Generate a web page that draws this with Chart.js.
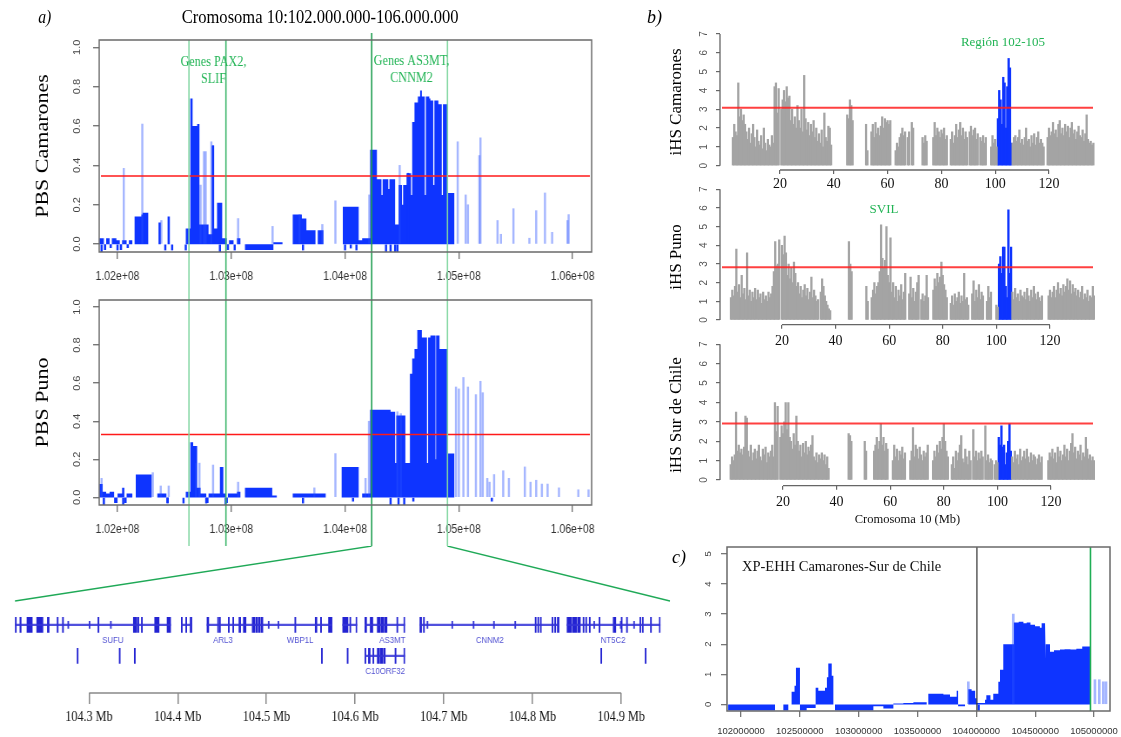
<!DOCTYPE html>
<html lang="es">
<head>
<meta charset="utf-8">
<title>PBS, iHS y XP-EHH - cromosoma 10</title>
<script src="https://cdn.jsdelivr.net/npm/chart.js@4.4.1/dist/chart.umd.min.js"></script>
<style>
  html, body { margin: 0; padding: 0; background: #fff; }
  body { position: relative; width: 1121px; height: 737px; overflow: hidden; }
  canvas { position: absolute; }
  #panelA { position: absolute; left: 0; top: 0; width: 800px; height: 737px; transform: scaleX(0.87); transform-origin: 0 0; }
  .txt { position: absolute; white-space: nowrap; line-height: 1; font-family: 'Liberation Serif', 'Times New Roman', serif; color: #000; }
</style>
</head>
<body>
<div id="panelA">
  <div class="txt" style="left:44px; top:8px; font-size:18px; font-style:italic;">a)</div>
  <div class="txt" style="left:0; width:736px; top:7px; font-size:19px; text-align:center;">Cromosoma 10:102.000.000-106.000.000</div>
  <canvas id="pbsCam" width="720" height="262" style="left:0; top:28px;"></canvas>
  <canvas id="pbsPuno" width="720" height="256" style="left:0; top:290px;"></canvas>
  <canvas id="genes" width="775" height="191" style="left:0; top:546px;"></canvas>
</div>
<div class="txt" style="left:647px; top:8px; font-size:18px; font-style:italic;">b)</div>
<canvas id="ihsCam" width="481" height="192" style="left:640px; top:0;"></canvas>
<canvas id="ihsPuno" width="481" height="170" style="left:640px; top:180px;"></canvas>
<canvas id="ihsSur" width="481" height="192" style="left:640px; top:338px;"></canvas>
<div class="txt" style="left:672px; top:548px; font-size:18px; font-style:italic;">c)</div>
<canvas id="xpehh" width="441" height="202" style="left:680px; top:535px;"></canvas>

<script>
// ---- PBS (panel a), positions in Mb ----
const pbsTicks = [102, 103, 104, 105, 106];
const pbsTickLabels = ['1.02e+08', '1.03e+08', '1.04e+08', '1.05e+08', '1.06e+08'];
const pbsYTicks = [0, 0.2, 0.4, 0.6, 0.8, 1.0];
const pbsYLabels = ['0.0', '0.2', '0.4', '0.6', '0.8', '1.0'];

// Camarones: step outline of the dense blocks (value holds until next x)
const camBlockX = [101.84, 101.88, 101.90, 101.93, 101.95, 101.99, 102.02, 102.04, 102.08, 102.10, 102.13, 102.15, 102.21, 102.22, 102.27,
  102.36, 102.38, 102.44, 102.46, 102.60, 102.64, 102.66, 102.70, 102.72, 102.80, 102.83, 102.845, 102.875, 102.92, 102.96, 102.98,
  103.02, 103.05, 103.08, 103.12, 103.37, 103.45, 103.54, 103.62, 103.66, 103.74, 103.76, 103.81, 103.98, 104.12, 104.15, 104.22,
  104.28, 104.32, 104.33, 104.38, 104.39, 104.44, 104.47, 104.50, 104.51, 104.54, 104.58, 104.59, 104.61, 104.64, 104.66, 104.675,
  104.70, 104.71, 104.74, 104.75, 104.775, 104.785, 104.82, 104.85, 104.86, 104.905, 104.96, 106.17];
const camBlockY = [0.03, -0.03, 0.03, -0.02, 0.03, 0.02, -0.03, 0.02, -0.02, 0.02, 0, 0.14, 0.15, 0.16, 0,
  0.11, 0, 0.14, 0, 0.08, 0.74, 0.60, 0.61, 0.10, 0.05, 0.50, 0.08, 0.21, 0.03, -0.03, 0.02,
  0, 0.03, 0, -0.03, 0.01, 0, 0.15, 0.13, 0.07, 0, 0.07, 0, 0.19, 0.02, 0.03, 0.48,
  0.33, 0.25, 0.33, 0.28, 0.33, 0.10, 0.30, 0.20, 0.30, 0.36, 0.25, 0.62, 0.72, 0.75, 0.78, 0.75,
  0.25, 0.75, 0.74, 0.73, 0.30, 0.73, 0.71, 0.25, 0.71, 0.26, 0, 0];
const camLineX = [102.84, 104.555, 101.86, 102.0, 102.42, 102.48, 102.6, 102.9, 103.03, 103.63, 104.0, 104.05, 104.1, 104.36, 104.40, 104.44, 104.46];
const camLineY = [0.50, 0.36, -0.04, -0.03, -0.03, -0.03, -0.03, -0.04, -0.03, -0.03, -0.03, -0.02, -0.03, -0.04, -0.04, -0.04, -0.04];
const camFaintX = [102.055, 102.218, 102.385, 102.73, 102.76, 102.775, 102.825, 103.06, 103.363, 103.6, 103.8, 103.915, 104.213, 104.48,
  104.99, 105.06, 105.08, 105.18, 105.19, 105.34, 105.37, 105.48, 105.62, 105.68, 105.757, 105.82, 105.955, 105.965];
const camFaintY = [0.385, 0.61, 0.12, 0.30, 0.47, 0.47, 0.52, 0.13, 0.09, 0.15, 0.10, 0.22, 0.25, 0.40,
  0.52, 0.25, 0.20, 0.45, 0.54, 0.12, 0.05, 0.18, 0.03, 0.17, 0.26, 0.06, 0.12, 0.15];

// Puno
const punoBlockX = [101.84, 101.87, 101.90, 101.93, 101.97, 102.00, 102.04, 102.06, 102.08, 102.13, 102.16, 102.30, 102.35, 102.43, 102.45,
  102.60, 102.64, 102.665, 102.70, 102.73, 102.78, 102.80, 102.90, 102.93, 102.95, 102.97, 103.05, 103.08, 103.12, 103.36, 103.40,
  103.54, 103.83, 103.97, 104.12, 104.15, 104.22, 104.40, 104.44, 104.45, 104.53, 104.57, 104.59, 104.61, 104.635, 104.675, 104.72,
  104.73, 104.75, 104.795, 104.80, 104.83, 104.90, 104.96, 106.17];
const punoBlockY = [0.07, 0.03, 0.02, 0.03, -0.03, 0.02, 0.05, -0.03, 0.02, 0, 0.12, 0, 0.02, -0.03, 0,
  0.03, 0.29, 0.27, 0.05, 0.02, -0.03, 0.02, 0.16, 0.02, -0.03, 0.02, 0.03, 0, 0.05, 0.01, 0,
  0.02, 0, 0.16, 0, 0.02, 0.46, 0.45, 0.18, 0.43, 0.18, 0.65, 0.73, 0.78, 0.88, 0.84, 0.18,
  0.84, 0.85, 0.20, 0.85, 0.78, 0.23, 0, 0];
const punoLineX = [101.88, 102.05, 102.44, 102.58, 102.78, 102.95, 103.63, 104.07, 104.40, 104.47, 104.52, 104.60, 105.29];
const punoLineY = [-0.04, -0.04, -0.03, -0.03, -0.03, -0.04, -0.03, -0.02, -0.04, -0.04, -0.04, -0.02, -0.02];
const punoFaintX = [101.86, 102.31, 102.38, 102.45, 102.69, 102.72, 102.84, 103.06, 103.73, 103.915, 104.18, 104.21, 104.46, 104.49,
  104.975, 105.0, 105.04, 105.08, 105.15, 105.19, 105.21, 105.25, 105.27, 105.31, 105.39, 105.44, 105.58, 105.63, 105.68, 105.73,
  105.78, 105.88, 106.05, 106.14];
const punoFaintY = [0.10, 0.13, 0.06, 0.06, 0.18, 0.18, 0.17, 0.08, 0.05, 0.23, 0.10, 0.40, 0.45, 0.44,
  0.58, 0.57, 0.63, 0.58, 0.54, 0.61, 0.55, 0.10, 0.08, 0.12, 0.14, 0.10, 0.16, 0.08, 0.09, 0.07,
  0.07, 0.05, 0.04, 0.04];

const camRed = 0.346, punoRed = 0.33;
const markAt = [102.628, 102.953, 104.234, 104.9];
const markColor = ['#80d6a0', '#3fb76c', '#1f9e50', '#80d6a0'];
const zoomFrom = 104.234, zoomTo = 104.9;

// ---- gene track (Mb) ----
const geneTicks = [104.3, 104.4, 104.5, 104.6, 104.7, 104.8, 104.9];
const geneTickLabels = ['104.3 Mb', '104.4 Mb', '104.5 Mb', '104.6 Mb', '104.7 Mb', '104.8 Mb', '104.9 Mb'];
const row1Introns = [[104.211, 104.392], [104.404, 104.416], [104.433, 104.574], [104.586, 104.602], [104.611, 104.656], [104.673, 104.830], [104.839, 104.944]];
const row1Exons = [[104.211, 104.218], [104.222, 104.2235], [104.230, 104.236], [104.241, 104.248], [104.253, 104.255], [104.264, 104.2652],
  [104.270, 104.2712], [104.310, 104.3112], [104.350, 104.354], [104.355, 104.3562], [104.359, 104.3602], [104.374, 104.379], [104.388, 104.392],
  [104.404, 104.4052], [104.409, 104.4102], [104.414, 104.416], [104.433, 104.435], [104.445, 104.4462], [104.447, 104.4482], [104.457, 104.4582],
  [104.462, 104.4632], [104.469, 104.471], [104.474, 104.477], [104.484, 104.487], [104.488, 104.490], [104.491, 104.493], [104.494, 104.496],
  [104.532, 104.5332], [104.555, 104.557], [104.561, 104.5622], [104.570, 104.574], [104.586, 104.592], [104.594, 104.5952], [104.601, 104.602],
  [104.611, 104.613], [104.617, 104.620], [104.625, 104.628], [104.629, 104.632], [104.633, 104.636], [104.647, 104.6482], [104.655, 104.656],
  [104.673, 104.675], [104.677, 104.6782], [104.803, 104.8042], [104.806, 104.8072], [104.809, 104.810], [104.822, 104.8232], [104.825, 104.8262],
  [104.828, 104.830], [104.839, 104.844], [104.845, 104.850], [104.851, 104.854], [104.857, 104.8582], [104.860, 104.8612], [104.864, 104.8652],
  [104.875, 104.8762], [104.891, 104.894], [104.900, 104.9012], [104.906, 104.9072], [104.921, 104.9222], [104.924, 104.925], [104.933, 104.9342],
  [104.943, 104.944]];
const row1Marks = [104.276, 104.300, 104.324, 104.502, 104.513, 104.681, 104.709, 104.733, 104.756, 104.780, 104.869, 104.899, 104.914];
const row2Introns = [[104.611, 104.656]];
const row2Exons = [[104.211, 104.213], [104.2865, 104.2877], [104.334, 104.3352], [104.351, 104.3522], [104.562, 104.5632], [104.591, 104.5922],
  [104.611, 104.6122], [104.615, 104.617], [104.620, 104.6212], [104.625, 104.627], [104.628, 104.631], [104.632, 104.634], [104.645, 104.6462],
  [104.655, 104.656], [104.877, 104.8782], [104.927, 104.9282]];
const geneNames = ['SUFU', 'ARL3', 'WBP1L', 'AS3MT', 'CNNM2', 'NT5C2', 'C10ORF32'];
const geneNameAt = [104.327, 104.451, 104.538, 104.642, 104.752, 104.891, 104.634];
const geneNameRow = [1.5, 1.5, 1.5, 1.5, 1.5, 1.5, 2.5];

// ---- iHS (panel b), one value every 0.5 Mb ----
const ihsStep = 0.5;
const ihsTicks = [20, 40, 60, 80, 100, 120];
const ihsYTicks = [0, 1, 2, 3, 4, 5, 6, 7];
const camStart = 2.5;
const ihsCamarones = [
  1.5,2.2,1.8,1.6,4.4,2.6,3.0,2.4,2.7,2.2, 1.8,1.4,2.0,1.2,1.7,2.2,1.5,1.0,1.9,1.3,
  1.1,1.6,0.9,2.0,1.2,0.8,1.4,1.1,1.0,1.6, 1.2,4.2,4.4,2.8,4.1,null,3.0,3.5,4.0,3.4,
  4.2,3.6,3.7,2.4,3.0,2.2,2.6,2.0,3.2,2.4, 2.0,3.0,1.8,4.8,2.5,1.9,2.3,1.6,2.2,1.8,
  2.4,1.5,2.0,1.3,1.7,1.2,1.9,1.0,2.8,1.5, 1.3,2.1,2.0,1.1,null,null,null,null,null,null,
  null,null,null,null,null,2.7,2.5,3.5,3.2,2.4, null,null,null,null,null,null,null,null,null,2.2,
  0.8,null,null,1.8,2.2,1.5,2.3,1.7,2.0,1.6, 2.1,2.6,2.0,2.5,2.3,2.4,2.2,2.4,null,null,
  null,0.8,1.2,1.0,1.5,1.7,2.0,1.6,1.8,null, 1.5,1.8,null,2.3,2.0,null,null,null,null,null,
  null,1.5,1.2,1.6,1.3,null,null,null,null,1.5, 2.3,1.6,2.0,1.8,1.5,1.9,1.7,2.0,1.4,1.6,
  null,null,1.4,1.8,1.2,1.6,2.2,1.5,1.9,2.3, 1.6,2.0,1.4,1.8,1.5,null,1.8,2.1,1.6,1.9,
  2.0,1.4,1.7,null,1.5,1.3,1.6,1.2,1.5,null, null,null,1.0,1.6,1.2,1.4,1.0,2.5,4.0,3.5,
  2.2,4.7,4.4,2.0,4.2,5.7,5.2,1.2,1.2,1.5, 1.6,1.3,1.5,1.9,1.2,1.4,1.1,1.5,2.0,1.3,
  1.4,1.0,1.6,1.2,1.7,1.1,1.5,1.8,1.2,1.4, 1.2,1.0,null,null,1.5,2.0,1.6,1.8,2.3,1.7,
  1.9,1.5,2.2,2.4,1.7,2.0,1.6,2.2,1.8,2.1, 1.5,2.0,2.3,1.7,1.9,1.4,1.8,2.1,1.6,1.5,
  1.9,1.3,1.7,2.7,1.4,1.2,1.3,1.1,1.2];
const punoStart = 1.0;
const ihsPuno = [
  1.2,1.6,1.3,1.8,3.8,1.5,1.9,1.2,2.4,1.4, 1.7,1.1,3.6,1.3,1.6,1.0,1.5,1.2,1.7,1.1,
  1.6,1.2,1.4,0.9,1.5,1.1,1.3,1.0,1.5,1.2, 1.4,1.8,2.6,4.2,2.9,3.0,4.3,null,4.0,3.5,
  4.5,3.6,2.4,3.0,2.2,2.8,2.0,3.1,2.5,1.8, 2.0,1.4,1.8,1.2,1.6,1.9,1.3,1.7,1.1,1.5,
  2.3,1.2,1.6,1.3,1.0,1.1,null,1.5,2.2,1.8, 1.3,1.0,0.8,0.6,0.5,null,null,null,null,null,
  null,null,null,null,null,null,null,null,4.2,3.0, 2.6,null,null,null,null,null,null,null,null,null,
  null,1.8,1.0,null,null,1.2,1.6,2.0,1.4,1.8, 2.0,2.6,5.1,3.3,2.8,3.2,5.0,2.4,2.0,4.4,
  1.5,2.0,1.2,1.8,1.0,1.6,1.3,1.9,1.1,1.5, 2.5,null,null,1.4,2.3,1.2,1.7,1.0,1.5,2.0,
  2.4,null,1.1,1.4,1.0,1.3,2.4,1.2,null,null, null,1.6,2.2,1.8,2.5,2.0,2.3,3.1,2.4,1.9,
  1.6,1.2,null,null,0.9,1.3,0.8,1.4,1.0,1.2, 1.5,0.9,1.3,1.0,2.5,1.1,1.2,0.8,null,null,
  1.4,2.1,1.0,1.6,1.2,1.9,1.1,1.5,1.3,null, null,1.0,1.8,1.2,1.5,null,null,null,0.8,0.7,
  3.0,3.4,2.5,3.9,3.9,1.8,1.2,5.9,2.5,3.9, 1.5,1.1,1.7,1.2,1.4,1.0,1.6,1.3,1.2,1.5,
  1.1,1.7,1.3,1.0,1.6,1.2,1.8,1.4,1.1,1.5, 1.2,1.0,1.3,null,null,null,null,1.3,1.6,1.2,
  1.5,1.8,1.2,1.6,2.0,1.4,1.7,1.3,1.9,1.5, 1.8,2.2,1.6,2.1,1.4,1.9,1.5,1.7,1.3,1.6,
  1.2,1.5,1.8,1.1,1.4,1.2,1.6,1.0,1.3,1.2, 1.8,1.3];
const surStart = 0.5;
const ihsSur = [
  0.8,1.2,1.0,1.3,3.5,1.5,1.8,1.4,1.6,1.3, 1.7,3.3,3.2,1.5,1.2,1.8,1.0,1.4,1.6,1.1,
  1.5,1.8,1.2,1.0,1.6,1.3,1.7,0.9,1.4,1.2, 1.5,1.8,1.2,4.0,2.5,3.8,null,2.2,2.8,2.4,
  3.0,4.0,2.6,4.0,2.2,2.0,1.6,2.4,1.8,3.3, 2.0,1.5,1.8,1.2,1.9,1.4,2.0,1.3,1.7,1.5,
  1.8,2.3,1.2,1.0,1.4,0.9,1.3,1.1,1.4,1.0, 1.3,0.8,1.2,0.6,null,null,null,null,null,null,
  null,null,null,null,null,null,null,null,2.4,2.3, 2.0,null,null,null,null,null,null,null,null,null,
  2.0,1.5,null,null,null,null,null,1.5,1.8,2.2, 1.6,2.0,2.9,1.8,2.2,1.5,1.9,1.6,null,null,
  null,1.0,1.8,1.2,1.6,1.0,1.5,1.3,1.7,1.1, 1.4,null,null,null,1.0,1.5,2.7,1.2,1.8,1.6,
  1.1,1.7,1.3,1.0,1.5,1.2,1.4,1.8,null,null, null,1.0,1.5,1.2,1.8,1.4,2.0,1.6,2.2,2.9,
  2.0,1.5,1.2,null,null,0.8,1.2,0.6,1.5,1.0, 1.4,1.8,2.3,1.1,0.9,1.6,1.2,0.8,1.5,1.0,
  null,2.6,1.2,1.5,1.0,1.4,1.1,1.5,1.2,null, 2.8,1.0,1.3,0.9,1.1,1.0,null,0.8,1.0,0.9,
  2.2,1.8,2.8,1.7,1.8,0.8,1.4,2.0,2.9,1.5, 1.2,0.9,1.5,1.1,1.3,0.8,1.6,1.0,1.2,1.5,
  1.1,1.6,1.2,0.9,1.4,1.0,1.3,1.2,0.8,1.1, 1.3,0.9,1.2,null,null,null,null,1.0,1.4,1.2,
  1.6,1.1,1.4,0.9,1.7,1.2,1.5,1.0,1.3,1.8, 1.2,1.6,1.0,1.5,1.9,2.4,1.4,1.7,1.1,1.5,
  1.3,1.8,1.0,1.4,1.2,2.2,1.6,1.1,1.3,1.0, 1.2,1.0,0.9];
const camBlue = [100.8, 106.2], punoBlue = [100.6, 105.7], surBlue = [100.3, 105.1];
const ihsRedCam = 3.08, ihsRedPuno = 2.82, ihsRedSur = 2.92;

// ---- XP-EHH (panel c), positions in Mb ----
const xpTicks = [102, 102.5, 103, 103.5, 104, 104.5, 105];
const xpTickLabels = ['102000000', '102500000', '103000000', '103500000', '104000000', '104500000', '105000000'];
const xpYTicks = [0, 1, 2, 3, 4, 5];
const xpBlockX = [101.89, 102.289, 102.36, 102.402, 102.43, 102.455, 102.467, 102.501, 102.558, 102.629, 102.637, 102.657, 102.714, 102.73,
  102.742, 102.771, 102.785, 102.799, 103.125, 103.21, 103.295, 103.38, 103.465, 103.578, 103.592, 103.72, 103.776, 103.833, 103.845,
  103.904, 103.932, 103.96, 103.99, 104.003, 104.074, 104.085, 104.12, 104.144, 104.187, 104.201, 104.229, 104.319, 104.36, 104.40,
  104.428, 104.46, 104.499, 104.54, 104.555, 104.584, 104.592, 104.626, 104.66, 104.711, 104.75, 104.80, 104.85, 104.90, 104.966, 105.13];
const xpBlockY = [-0.2, 0, -0.2, 0, 0.42, 0.62, 1.22, -0.2, -0.12, 0, 0.55, 0.45, 0.55, 0.90,
  1.36, 0.95, 0, -0.2, -0.06, -0.14, 0.03, 0.05, 0.07, 0, 0.35, 0.33, 0.25, 0.45, -0.06,
  0, 0.50, 0.45, 0.20, 0.05, 0.15, 0.30, 0.15, 0.35, 0.75, 1.15, 2.0, 2.72, 2.75, 2.70,
  2.72, 2.65, 2.60, 2.55, 2.70, 1.50, 2.0, 1.75, 1.80, 1.82, 1.83, 1.82, 1.85, 1.92, 0, 0];
const xpFaintX = [104.314, 105.008, 105.045, 105.079, 105.102, 103.932];
const xpFaintY = [3.0, 0.82, 0.82, 0.75, 0.75, 0.75];
const xpLineX = [104.02];
const xpLineY = [-0.2];
const xpMarks = [104.005, 104.97];

// ---------------------------------------------------------------
const BLUE = 'rgb(14,52,255)';
const FAINT = 'rgba(40,80,255,0.42)';
const GRAY = '#a4a4a4';
const SERIF = "'Liberation Serif', 'Times New Roman', serif";
const SANS = "'Liberation Sans', Arial, sans-serif";

const pts = (xs, ys) => xs.map((x, i) => ({ x, y: ys[i] }));
// each value holds from its x to the next x: corners of the outline
const stepPts = (xs, ys) => xs.flatMap((x, i) =>
  i < xs.length - 1 ? [{ x, y: ys[i] }, { x: xs[i + 1], y: ys[i] }] : [{ x, y: ys[i] }]);
const ihsPts = (start, vals, range, inside) => vals.map((v, i) => {
  const x = start + i * ihsStep;
  const isIn = x >= range[0] && x <= range[1];
  return { x, y: isIn === inside ? v : null };
});
const fixTicks = vals => s => { s.ticks = vals.map(v => ({ value: v })); };

// R-looking extras: abline, frame, axis lines, rotated tick labels, notes
function rPlot(c) {
  return {
    id: 'rPlot',
    afterDatasetsDraw(chart) {
      const { ctx, chartArea: a } = chart;
      const xs = chart.scales.x, ys = chart.scales.y;
      ctx.save();
      if (c.red != null) {
        const py = ys.getPixelForValue(c.red);
        ctx.strokeStyle = c.redColor || '#ff1a1a';
        ctx.lineWidth = c.redWidth || 1.6;
        ctx.beginPath(); ctx.moveTo(a.left + 2, py); ctx.lineTo(a.right - 2, py); ctx.stroke();
      }
      (c.vlines || []).forEach(v => {
        const px = xs.getPixelForValue(v.at);
        ctx.strokeStyle = v.color; ctx.lineWidth = v.width || 1.4;
        ctx.beginPath();
        ctx.moveTo(px, v.from === 'canvas' ? 0 : a.top - (v.above || 0));
        ctx.lineTo(px, v.to === 'canvas' ? chart.height : a.bottom);
        ctx.stroke();
      });
      if (c.frame) {
        ctx.strokeStyle = '#6a6a6a'; ctx.lineWidth = 1.5;
        ctx.strokeRect(a.left, a.top, a.right - a.left, a.bottom - a.top);
      }
      ctx.strokeStyle = c.axisColor || '#666'; ctx.lineWidth = 1.3;
      if (c.xAxisLine) {
        ctx.beginPath();
        ctx.moveTo(xs.getPixelForValue(c.xAxisLine[0]), a.bottom);
        ctx.lineTo(xs.getPixelForValue(c.xAxisLine[1]), a.bottom);
        ctx.stroke();
      }
      if (c.yAxisLine) {
        ctx.beginPath();
        ctx.moveTo(a.left, ys.getPixelForValue(c.yAxisLine[0]));
        ctx.lineTo(a.left, ys.getPixelForValue(c.yAxisLine[1]));
        ctx.stroke();
      }
      if (c.yLabels) {
        const L = c.yLabels;
        ctx.fillStyle = L.color; ctx.font = L.font;
        ctx.textAlign = 'center'; ctx.textBaseline = 'middle';
        L.values.forEach((v, i) => {
          ctx.save();
          ctx.translate(a.left - L.offset, ys.getPixelForValue(v));
          ctx.rotate(-Math.PI / 2);
          ctx.fillText(L.texts[i], 0, 0);
          ctx.restore();
        });
      }
      (c.notes || []).forEach(n => {
        ctx.fillStyle = n.color; ctx.font = n.font;
        ctx.textAlign = n.align || 'center'; ctx.textBaseline = 'middle';
        const px = xs.getPixelForValue(n.x), py = ys.getPixelForValue(n.y);
        n.lines.forEach((t, i) => ctx.fillText(t, px, py + i * (n.lh || 0)));
      });
      ctx.restore();
    }
  };
}

Chart.defaults.font.family = SANS;
const base = { responsive: false, animation: false, events: [], devicePixelRatio: 1,
  plugins: { legend: { display: false }, tooltip: { enabled: false } } };

function pbsConfig(o) {
  return {
    type: 'bar',
    data: { datasets: [
      { type: 'line', data: stepPts(o.bx, o.by), fill: 'origin', backgroundColor: BLUE, borderWidth: 0, pointRadius: 0, tension: 0, order: 3 },
      { data: pts(o.fx, o.fy), backgroundColor: FAINT, barThickness: 1.8, grouped: false, order: 2 },
      { data: pts(o.lx, o.ly), backgroundColor: BLUE, barThickness: 1.8, grouped: false, order: 1 }
    ] },
    options: Object.assign({}, base, {
      layout: { padding: { left: 0, right: 40, top: o.padTop, bottom: 0 } },
      scales: {
        x: { type: 'linear', min: 101.839, max: 106.167, offset: false,
          afterBuildTicks: fixTicks(pbsTicks),
          afterFit: s => { s.height = o.axisH; s.paddingLeft = 0; s.paddingRight = 0; },
          grid: { drawOnChartArea: false, tickLength: 7, color: '#777', lineWidth: 1.4, offset: false },
          border: { display: false },
          ticks: { autoSkip: false, maxRotation: 0, padding: 10, color: '#333', font: { family: SANS, size: 12 },
            callback: (v, i) => pbsTickLabels[i] } },
        y: { type: 'linear', min: -0.04, max: 1.037,
          afterBuildTicks: fixTicks(pbsYTicks),
          afterFit: s => { s.width = 114; s.paddingTop = 0; s.paddingBottom = 0; },
          grid: { drawOnChartArea: false, tickLength: 7, color: '#777', lineWidth: 1.4 },
          border: { display: false },
          ticks: { display: false },
          title: { display: true, text: o.title, color: '#000', font: { family: SERIF, size: 22 }, padding: { top: 36, bottom: 0 } } }
      }
    }),
    plugins: [rPlot({
      red: o.red, frame: true,
      vlines: markAt.map((m, i) => ({ at: m, color: markColor[i], width: 1.6, from: o.linesFrom, to: 'canvas', above: i === 2 ? 7 : 0 })),
      yLabels: { values: pbsYTicks, texts: pbsYLabels, offset: 25.5, font: `11px ${SANS}`, color: '#444' },
      notes: o.notes
    })]
  };
}

const pbsCam = new Chart(document.getElementById('pbsCam'), pbsConfig({
  bx: camBlockX, by: camBlockY, fx: camFaintX, fy: camFaintY, lx: camLineX, ly: camLineY,
  red: camRed, padTop: 12, axisH: 38, title: 'PBS Camarones', linesFrom: 'area',
  notes: [
    { x: 102.843, y: 0.924, lines: ['Genes PAX2,', 'SLIF'], lh: 17, font: `14px ${SERIF}`, color: '#22b455' },
    { x: 104.584, y: 0.930, lines: ['Genes AS3MT,', 'CNNM2'], lh: 17, font: `14px ${SERIF}`, color: '#22b455' }
  ]
}));
const pbsPuno = new Chart(document.getElementById('pbsPuno'), pbsConfig({
  bx: punoBlockX, by: punoBlockY, fx: punoFaintX, fy: punoFaintY, lx: punoLineX, ly: punoLineY,
  red: punoRed, padTop: 10, axisH: 41, title: 'PBS Puno', linesFrom: 'canvas', notes: []
}));

// gene track under panel a
const rowBars = (pairs, row) => pairs.map(p => ({ x: p, y: row }));
const markBars = (xs, row) => xs.map(x => ({ x: [x, x + 0.0012], y: row }));
const geneDecor = {
  id: 'geneDecor',
  afterDatasetsDraw(chart) {
    const { ctx, chartArea: a, scales: { x, y } } = chart;
    const px = pbsPuno.scales.x;
    ctx.save();
    ctx.strokeStyle = '#1fa957'; ctx.lineWidth = 1.3;
    ctx.beginPath();
    ctx.moveTo(px.getPixelForValue(zoomFrom), 0); ctx.lineTo(a.left, a.top);
    ctx.moveTo(px.getPixelForValue(zoomTo), 0); ctx.lineTo(a.right, a.top);
    ctx.stroke();
    ctx.fillStyle = '#5252d2'; ctx.font = `9px ${SANS}`;
    ctx.textAlign = 'center'; ctx.textBaseline = 'middle';
    geneNames.forEach((n, i) => ctx.fillText(n, x.getPixelForValue(geneNameAt[i]), y.getPixelForValue(geneNameRow[i])));
    ctx.restore();
  }
};
new Chart(document.getElementById('genes'), {
  type: 'bar',
  data: { datasets: [
    { data: rowBars(row1Introns, 1).concat(rowBars(row2Introns, 2)), backgroundColor: 'rgba(50,50,215,0.85)', barThickness: 1.6, grouped: false },
    { data: rowBars(row1Exons, 1).concat(rowBars(row2Exons, 2)), backgroundColor: '#2323d2', barThickness: 15, grouped: false },
    { data: markBars(row1Marks, 1), backgroundColor: '#3a3ad6', barThickness: 7, grouped: false }
  ] },
  options: Object.assign({}, base, {
    indexAxis: 'y',
    layout: { padding: { left: 17.2, right: 5, top: 55, bottom: 0 } },
    scales: {
      x: { type: 'linear', min: 104.2165, max: 104.955,
        afterBuildTicks: fixTicks(geneTicks),
        afterFit: s => { s.height = 44; s.paddingLeft = 0; s.paddingRight = 0; },
        grid: { drawOnChartArea: false, tickLength: 11, color: '#888', lineWidth: 1.5 },
        border: { display: false },
        ticks: { autoSkip: false, maxRotation: 0, padding: 5, color: '#111', font: { family: SERIF, size: 14 },
          callback: (v, i) => geneTickLabels[i] } },
      y: { type: 'linear', min: 0.23, max: 3.2, reverse: true, display: false, offset: false, grid: { offset: false } }
    }
  }),
  plugins: [rPlot({ xAxisLine: [104.3, 104.9], axisColor: '#888' }), geneDecor]
});

// panel b
function ihsConfig(o) {
  return {
    type: 'bar',
    data: { datasets: [
      { data: ihsPts(o.start, o.vals, o.blue, false), backgroundColor: GRAY, barThickness: 1.6, grouped: false },
      { data: ihsPts(o.start, o.vals, o.blue, true), backgroundColor: BLUE, barThickness: 1.6, grouped: false }
    ] },
    options: Object.assign({}, base, {
      layout: { padding: { left: 0, right: 26, top: o.padTop, bottom: 0 } },
      scales: {
        x: { type: 'linear', min: o.xmin, max: o.xmax, offset: false,
          afterBuildTicks: fixTicks(ihsTicks),
          afterFit: s => { s.height = o.axisH; s.paddingLeft = 0; s.paddingRight = 0; },
          grid: { drawOnChartArea: false, tickLength: 4, color: '#666', lineWidth: 1.2, offset: false },
          border: { display: false },
          ticks: { autoSkip: false, maxRotation: 0, padding: o.tickPad, color: '#111', font: { family: SERIF, size: 14 } },
          title: o.xTitle ? { display: true, text: o.xTitle, color: '#111', font: { family: SERIF, size: 12.5 }, padding: { top: 0, bottom: 2.5 } } : { display: false } },
        y: { type: 'linear', min: o.ymin, max: 7,
          afterBuildTicks: fixTicks(ihsYTicks),
          afterFit: s => { s.width = 80; s.paddingTop = 0; s.paddingBottom = 0; },
          grid: { drawOnChartArea: false, tickLength: 4, color: '#666', lineWidth: 1.2 },
          border: { display: false },
          ticks: { display: false },
          title: { display: true, text: o.title, color: '#000', font: { family: SERIF, size: 17 }, padding: { top: 26.8, bottom: 0 } } }
      }
    }),
    plugins: [rPlot({
      red: o.red, redColor: 'rgba(255,30,30,0.85)', redWidth: 2,
      xAxisLine: [20, 120], yAxisLine: [0, 7], axisColor: '#666',
      yLabels: { values: ihsYTicks, texts: ihsYTicks.map(String), offset: 16, font: `10px ${SANS}`, color: '#555' },
      notes: o.notes
    })]
  };
}
new Chart(document.getElementById('ihsCam'), ihsConfig({
  start: camStart, vals: ihsCamarones, blue: camBlue, red: ihsRedCam, title: 'iHS Camarones',
  xmin: -2.3, xmax: 137.1, ymin: -0.23, padTop: 34, axisH: 22, tickPad: 2,
  notes: [{ x: 102.9, y: 6.52, lines: ['Región 102-105'], font: `13px ${SERIF}`, color: '#22b455' }]
}));
new Chart(document.getElementById('ihsPuno'), ihsConfig({
  start: punoStart, vals: ihsPuno, blue: punoBlue, red: ihsRedPuno, title: 'iHS Puno',
  xmin: -3.1, xmax: 136.8, ymin: -0.25, padTop: 9.3, axisH: 25.3, tickPad: 4,
  notes: [{ x: 58.1, y: 5.89, lines: ['SVIL'], font: `13px ${SERIF}`, color: '#22b455' }]
}));
new Chart(document.getElementById('ihsSur'), ihsConfig({
  start: surStart, vals: ihsSur, blue: surBlue, red: ihsRedSur, title: 'iHS Sur de Chile',
  xmin: -3.5, xmax: 136.4, ymin: -0.29, padTop: 6.3, axisH: 44.3, tickPad: 4,
  xTitle: 'Cromosoma 10 (Mb)', notes: []
}));

// panel c
new Chart(document.getElementById('xpehh'), {
  type: 'bar',
  data: { datasets: [
    { type: 'line', data: stepPts(xpBlockX, xpBlockY), fill: 'origin', backgroundColor: BLUE, borderWidth: 0, pointRadius: 0, tension: 0, order: 3 },
    { data: pts(xpFaintX, xpFaintY), backgroundColor: FAINT, barThickness: 2, grouped: false, order: 2 },
    { data: pts(xpLineX, xpLineY), backgroundColor: BLUE, barThickness: 1.6, grouped: false, order: 1 }
  ] },
  options: Object.assign({}, base, {
    layout: { padding: { left: 0, right: 11, top: 12, bottom: 0 } },
    scales: {
      x: { type: 'linear', min: 101.881, max: 105.136, offset: false,
        afterBuildTicks: fixTicks(xpTicks),
        afterFit: s => { s.height = 26; s.paddingLeft = 0; s.paddingRight = 0; },
        grid: { drawOnChartArea: false, tickLength: 6, color: '#777', lineWidth: 1.3, offset: false },
        border: { display: false },
        ticks: { autoSkip: false, maxRotation: 0, padding: 9, color: '#333', font: { family: SANS, size: 9.5 },
          callback: (v, i) => xpTickLabels[i] } },
      y: { type: 'linear', min: -0.22, max: 5.23,
        afterBuildTicks: fixTicks(xpYTicks),
        afterFit: s => { s.width = 47; s.paddingTop = 0; s.paddingBottom = 0; },
        grid: { drawOnChartArea: false, tickLength: 6, color: '#777', lineWidth: 1.3 },
        border: { display: false },
        ticks: { display: false } }
    }
  }),
  plugins: [rPlot({
    frame: true,
    vlines: [{ at: xpMarks[0], color: '#333', width: 1.2 }, { at: xpMarks[1], color: '#1fae55', width: 1.6 }],
    yLabels: { values: xpYTicks, texts: xpYTicks.map(String), offset: 19, font: `9.5px ${SANS}`, color: '#444' },
    notes: [{ x: 102.008, y: 4.57, lines: ['XP-EHH Camarones-Sur de Chile'], align: 'left', font: `14.5px ${SERIF}`, color: '#111' }]
  })]
});
</script>
</body>
</html>
